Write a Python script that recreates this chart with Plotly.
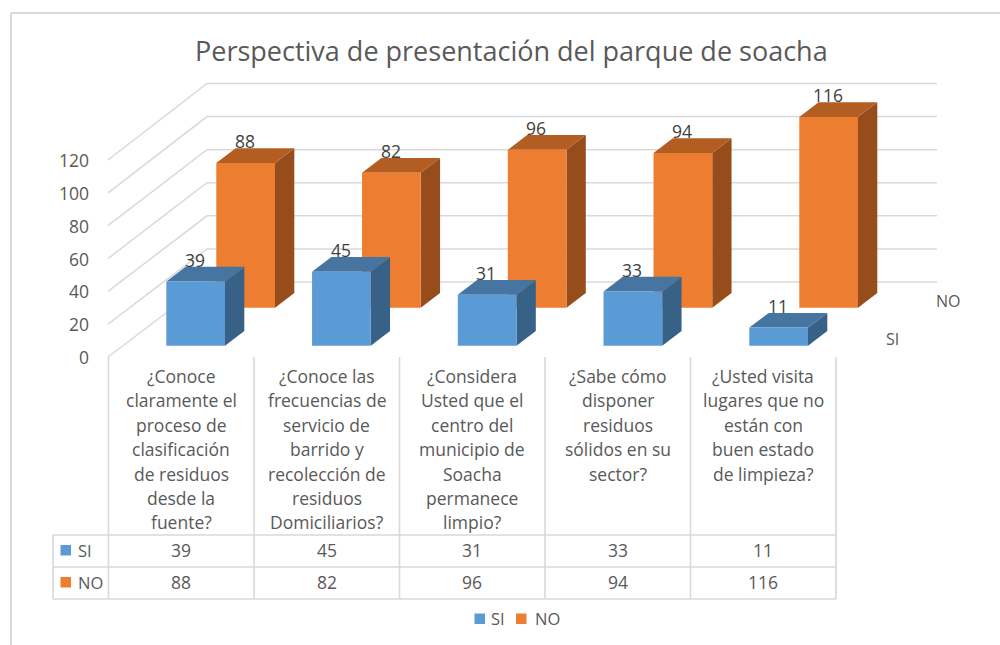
import plotly.graph_objects as go

# ---------- data ----------
title = "Perspectiva de presentación del parque de soacha"
categories = [
    "¿Conoce<br>claramente el<br>proceso de<br>clasificación<br>de residuos<br>desde la<br>fuente?",
    "¿Conoce las<br>frecuencias de<br>servicio de<br>barrido y<br>recolección de<br>residuos<br>Domiciliarios?",
    "¿Considera<br>Usted que el<br>centro del<br>municipio de<br>Soacha<br>permanece<br>limpio?",
    "¿Sabe cómo<br>disponer<br>residuos<br>sólidos en su<br>sector?",
    "¿Usted visita<br>lugares que no<br>están con<br>buen estado<br>de limpieza?",
]
si_values = [39, 45, 31, 33, 11]
no_values = [88, 82, 96, 94, 116]
y_ticks = [0, 20, 40, 60, 80, 100, 120]
series_names = ["SI", "NO"]

# ---------- style / layout ----------
W, H = 1000, 645
FONT = "'Open Sans', Lato, sans-serif"
TXT = "#595959"
GRID = "#D9D9D9"
COL = {
    "SI": dict(front="#5B9BD5", top="#4575A0", side="#376187"),
    "NO": dict(front="#ED7D31", top="#B25E23", side="#974D1B"),
}
PX0, PXC = 166.3, 145.75     # pixel of category 0, pixels per category
PY0, PYV = 345.7, 1.645      # pixel of value 0, pixels per value unit
BAR_W = 58.7 / PXC
DX, DY = 19.3 / PXC, 14.7 / PYV             # depth of a bar
SX, SY = 50.0 / PXC, 38.0 / PYV             # shift between series rows
SIZE = 17.5


def xd(px):
    return (px - PX0) / PXC


def yd(py):
    return (PY0 - py) / PYV


fig = go.Figure()


def poly(xs, ys, color, name):
    fig.add_trace(go.Scatter(
        x=xs + xs[:1], y=ys + ys[:1], mode="lines", fill="toself", fillcolor=color,
        line=dict(color=color, width=0), hoverinfo="skip", showlegend=False, name=name))


# walls: gridlines run along the back wall and down the side wall
for t in y_ticks:
    back_y = yd(282 - t * 1.654)
    front_y = yd(357 - t * 1.6417)
    fig.add_trace(go.Scatter(
        x=[xd(108), xd(207), xd(937)], y=[front_y, back_y, back_y], mode="lines",
        line=dict(color=GRID, width=1.5), hoverinfo="skip", showlegend=False))

# bars: back row first, then front row
for row, (name, vals) in reversed(list(enumerate(zip(series_names, [si_values, no_values])))):
    c = COL[name]
    for i, v in enumerate(vals):
        x0 = i + row * SX
        y0 = row * SY
        x1 = x0 + BAR_W
        top = y0 + v
        poly([x1, x1 + DX, x1 + DX, x1], [y0, y0 + DY, top + DY, top], c["side"], name)
        poly([x0, x1, x1 + DX, x0 + DX], [top, top, top + DY, top + DY], c["top"], name)
        poly([x0, x1, x1, x0], [y0, y0, top, top], c["front"], name)

annotations = []


def label(px, py, text, size=SIZE, anchor="center", color=TXT):
    annotations.append(dict(
        x=px / W, y=1 - py / H, xref="paper", yref="paper", text=text, showarrow=False,
        xanchor=anchor, yanchor="middle", align=anchor,
        font=dict(family=FONT, size=size, color=color)))


def dlabel(x, y, text, size=SIZE):
    annotations.append(dict(
        x=x, y=y, xref="x", yref="y", text=text, showarrow=False,
        xanchor="center", yanchor="middle",
        font=dict(family=FONT, size=size, color="#404040")))


# data labels above the bars
for row, vals in enumerate([si_values, no_values]):
    for i, v in enumerate(vals):
        dlabel(i + row * SX + BAR_W / 2 - 0.005, row * SY + v + 13.2, str(v))

# value axis labels
for t in y_ticks:
    annotations.append(dict(
        x=91 / W, xref="paper", y=yd(357 - t * 1.6417), yref="y", text=str(t), showarrow=False,
        xanchor="right", yanchor="middle", font=dict(family=FONT, size=SIZE, color=TXT)))

# title, depth axis labels
label(511.5, 50, title, size=27)
label(948, 301, "NO", size=16)
label(892, 339, "SI", size=16)

# data table
col_edges = [108.5, 254, 399.5, 545, 690.5, 836]
shapes = []


def pline(x0, y0, x1, y1, width=1.6):
    shapes.append(dict(type="line", xref="paper", yref="paper", x0=x0 / W, x1=x1 / W,
                       y0=1 - y0 / H, y1=1 - y1 / H, line=dict(color=GRID, width=width)))


def pkey(x0, y0, size, color):
    shapes.append(dict(type="rect", xref="paper", yref="paper", x0=x0 / W, x1=(x0 + size) / W,
                       y0=1 - y0 / H, y1=1 - (y0 + size) / H, fillcolor=color, line=dict(width=0)))


pline(11, 13, 1000, 13, 2)
pline(11, 13, 11, 645, 2)
for x in col_edges:
    pline(x, 357, x, 599)
pline(53, 535, 53, 599)
for y in [535, 567, 599]:
    pline(53, y, 836, y)

for i, cat in enumerate(categories):
    cx = (col_edges[i] + col_edges[i + 1]) / 2
    for j, line in enumerate(cat.split("<br>")):
        label(cx, 376 + j * 24.4, line)
    label(cx, 550, str(si_values[i]))
    label(cx, 582, str(no_values[i]))

pkey(60.5, 545, 10.5, COL["SI"]["front"])
pkey(60.5, 577, 10.5, COL["NO"]["front"])
label(76, 550, series_names[0], anchor="left", size=16.5)
label(76, 582, series_names[1], anchor="left", size=16.5)

# legend
pkey(474.5, 613.5, 10.5, COL["SI"]["front"])
pkey(516, 613.5, 10.5, COL["NO"]["front"])
label(489, 618.5, series_names[0], anchor="left", size=16.5)
label(532.5, 618.5, series_names[1], anchor="left", size=16.5)

fig.update_layout(
    width=W, height=H, margin=dict(l=0, r=0, t=0, b=0),
    paper_bgcolor="white", plot_bgcolor="white", showlegend=False,
    xaxis=dict(range=[xd(0), xd(W)], visible=False, fixedrange=True),
    yaxis=dict(range=[yd(H), yd(0)], visible=False, fixedrange=True),
    annotations=annotations, shapes=shapes,
)
fig.write_html("out.html", config={"displayModeBar": False},
               post_script="document.body.style.margin='0';document.body.style.overflow='hidden';")
